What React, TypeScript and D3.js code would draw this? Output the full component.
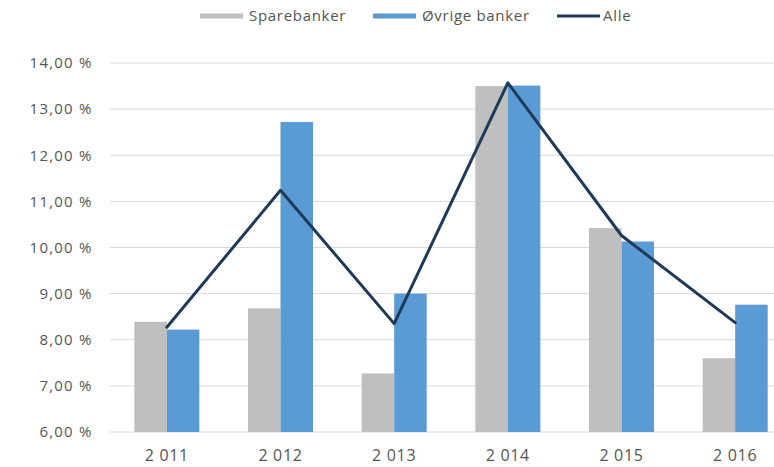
import { useMemo } from "react";
import * as d3 from "d3";

const years = [2011, 2012, 2013, 2014, 2015, 2016];
const sparebanker = [8.39, 8.68, 7.27, 13.5, 10.42, 7.6];
const ovrigeBanker = [8.22, 12.72, 9.0, 13.51, 10.13, 8.76];
const alle = [8.27, 11.24, 8.35, 13.57, 10.26, 8.37];
const yTicks = [6, 7, 8, 9, 10, 11, 12, 13, 14];

const W = 774;
const H = 467;
const GRAY = "#bfbfbf";
const BLUE = "#5b9bd5";
const NAVY = "#1e3a58";
const TEXT = "#555555";
const FONT = "'Open Sans', 'Noto Sans', sans-serif";

const nbLocale = d3.formatLocale({ decimal: ",", thousands: " ", grouping: [3], currency: ["", " kr"] });
const fmtYear = (y: number) => nbLocale.format(",")(y);
const fmtPct = (v: number) => `${nbLocale.format(".2f")(v)} %`;

export default function App() {
  const x = useMemo(
    () => d3.scaleBand<number>().domain(years).range([110, 792]).paddingInner(0.428).paddingOuter(0.214),
    []
  );
  const y = useMemo(() => d3.scaleLinear().domain([6, 14]).range([432, 63]), []);
  const sub = useMemo(
    () => d3.scaleBand<string>().domain(["spare", "ovrige"]).range([0, x.bandwidth()]),
    [x]
  );

  const line = d3
    .line<number>()
    .x((_, i) => (x(years[i]) ?? 0) + x.bandwidth() / 2)
    .y((d) => y(d));

  const legend = [
    { label: "Sparebanker", color: GRAY, kind: "bar", x: 200 },
    { label: "Øvrige banker", color: BLUE, kind: "bar", x: 373 },
    { label: "Alle", color: NAVY, kind: "line", x: 557 },
  ];

  return (
    <svg width={W} height={H} style={{ position: "absolute", left: 0, top: 0, background: "#fff" }} fontFamily={FONT}>
      {/* gridlines */}
      {yTicks.map((t) => (
        <line key={t} x1={110} x2={W} y1={y(t)} y2={y(t)} stroke="#d9d9d9" strokeWidth={1} />
      ))}
      {yTicks.map((t) => (
        <text key={`l${t}`} x={92.5} y={y(t)} dy="0.35em" textAnchor="end" fontSize={15} letterSpacing={1.2} fill={TEXT}>
          {fmtPct(t)}
        </text>
      ))}

      {/* bars */}
      {years.map((yr, i) => {
        const x0 = x(yr) ?? 0;
        return (
          <g key={yr}>
            <rect x={x0 + (sub("spare") ?? 0)} y={y(sparebanker[i])} width={sub.bandwidth()} height={y(6) - y(sparebanker[i])} fill={GRAY} />
            <rect x={x0 + (sub("ovrige") ?? 0)} y={y(ovrigeBanker[i])} width={sub.bandwidth()} height={y(6) - y(ovrigeBanker[i])} fill={BLUE} />
            <text x={x0 + x.bandwidth() / 2} y={461} textAnchor="middle" fontSize={16} letterSpacing={0.7} fill={TEXT}>
              {fmtYear(yr)}
            </text>
          </g>
        );
      })}

      <path d={line(alle) ?? ""} fill="none" stroke={NAVY} strokeWidth={3} strokeLinejoin="round" strokeLinecap="round" />

      {/* legend */}
      {legend.map((l) => (
        <g key={l.label}>
          {l.kind === "bar" ? (
            <rect x={l.x} y={13.5} width={43} height={5} fill={l.color} />
          ) : (
            <line x1={l.x} x2={l.x + 43} y1={16} y2={16} stroke={l.color} strokeWidth={3} />
          )}
          <text x={l.x + (l.kind === "bar" ? 49 : 46)} y={16} dy="0.35em" fontSize={15} letterSpacing={0.7} fill={TEXT}>
            {l.label}
          </text>
        </g>
      ))}
    </svg>
  );
}
